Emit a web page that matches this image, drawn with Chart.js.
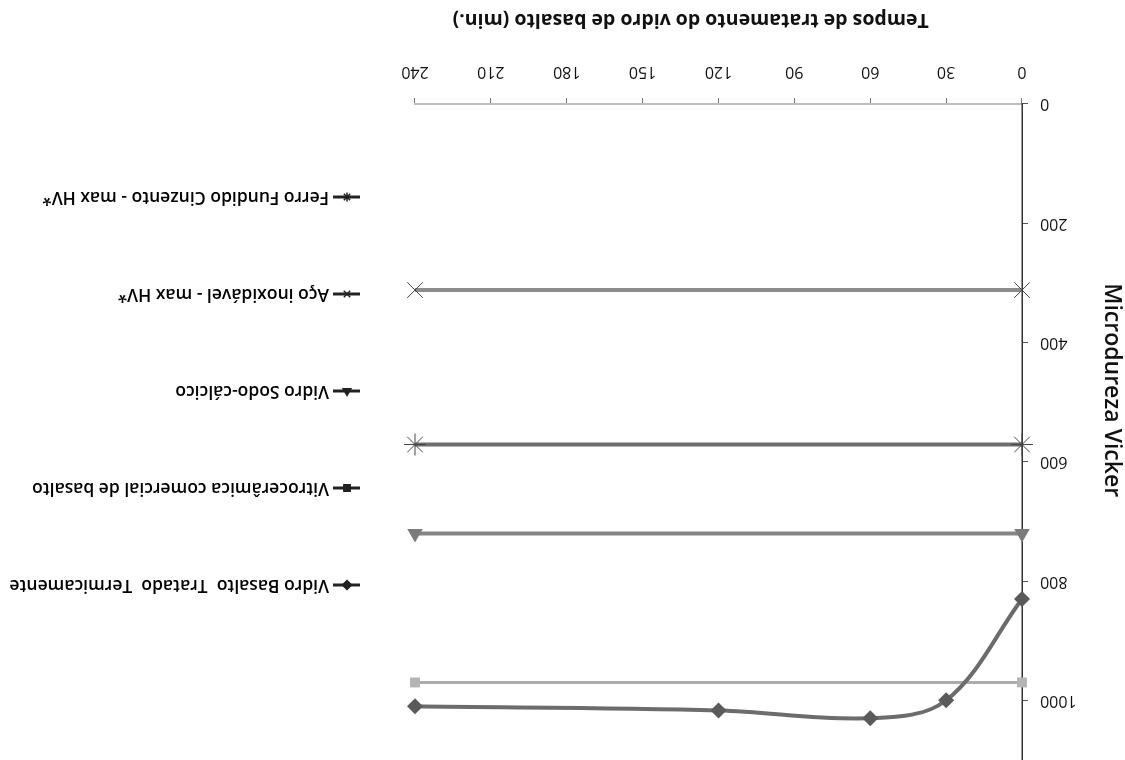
<!DOCTYPE html>
<html>
<head>
<meta charset="utf-8">
<script src="https://cdn.jsdelivr.net/npm/chart.js@4.4.0/dist/chart.umd.min.js"></script>
<style>
  html, body { margin: 0; padding: 0; background: #fff; }
  /* the reference picture is printed upside down */
  #wrap { width: 1125px; height: 760px; position: relative; transform: rotate(180deg); }
</style>
</head>
<body>
<div id="wrap"><canvas id="chart"></canvas></div>
<script>
// treatment time (min) for the basalt glass
const basaltoTimes = [0, 30, 60, 120, 240];
const basaltoHV = [830, 1000, 1030, 1017, 1010];

// reference materials drawn as flat lines over the whole range
const refTimes = [0, 240];
const vitroHV = [970, 970];
const sodoHV = [720, 720];
const acoHV = [312, 312];
const ferroHV = [571, 571];

const seriesLabels = [
    'Vidro Basalto  Tratado  Termicamente',
    'Vitrocerâmica comercial de basalto',
    'Vidro Sodo-cálcico',
    'Aço inoxidável - max HV*',
    'Ferro Fundido Cinzento - max HV*'
];

const xTitle = 'Tempos de tratamento do vidro de basalto (min.)';
const yTitle = 'Microdureza Vicker';
const yTickStep = 200;

function toPoints(xs, ys) {
    return xs.map((x, i) => ({ x: x, y: ys[i] }));
}

const FONT = '"Open Sans", "DejaVu Sans", sans-serif';
const NBSP = '\u00a0';

// Excel-like legend: short line with marker, text to the right
const sideLegend = {
    id: 'sideLegend',
    afterDraw(chart) {
        const ctx = chart.ctx;
        const left = chart.chartArea.right + 55;
        const top = 175;
        const step = 97;
        chart.data.datasets.forEach((ds, i) => {
            const y = top + i * step;
            ctx.save();
            ctx.strokeStyle = '#222';
            ctx.fillStyle = '#222';
            ctx.lineWidth = 3;
            ctx.beginPath();
            ctx.moveTo(left, y);
            ctx.lineTo(left + 27, y);
            ctx.stroke();
            if (Chart.helpers && Chart.helpers.drawPoint) {
                ctx.lineWidth = 1.5;
                Chart.helpers.drawPoint(ctx, { pointStyle: ds.pointStyle, radius: 4.5, borderWidth: 1.5, rotation: 0 }, left + 13, y);
            }
            ctx.fillStyle = '#000';
            ctx.font = '600 17.5px ' + FONT;
            ctx.textBaseline = 'middle';
            ctx.textAlign = 'left';
            ctx.fillText(ds.label, left + 31, y);
            ctx.restore();
        });
    }
};

const ctx = document.getElementById('chart');

new Chart(ctx, {
    type: 'line',
    data: {
        datasets: [{
            label: seriesLabels[0],
            data: toPoints(basaltoTimes, basaltoHV),
            borderColor: '#6c6c6c',
            backgroundColor: '#5a5a5a',
            borderWidth: 4,
            pointStyle: 'rectRot',
            pointRadius: 8,
            pointBorderWidth: 0,
            tension: 0.35,
            clip: false
        }, {
            label: seriesLabels[1],
            data: toPoints(refTimes, vitroHV),
            borderColor: '#acacac',
            backgroundColor: '#b4b4b4',
            borderWidth: 3,
            pointStyle: 'rect',
            pointRadius: 7,
            pointBorderWidth: 0,
            clip: false
        }, {
            label: seriesLabels[2],
            data: toPoints(refTimes, sodoHV),
            borderColor: '#858585',
            backgroundColor: '#7c7c7c',
            borderWidth: 4,
            pointStyle: 'triangle',
            pointRadius: 9,
            pointBorderWidth: 0,
            clip: false
        }, {
            label: seriesLabels[3],
            data: toPoints(refTimes, acoHV),
            borderColor: '#8c8c8c',
            backgroundColor: '#444',
            borderWidth: 4,
            pointStyle: 'crossRot',
            pointRadius: 11,
            pointBorderColor: '#444',
            pointBorderWidth: 1,
            clip: false
        }, {
            label: seriesLabels[4],
            data: toPoints(refTimes, ferroHV),
            borderColor: '#6e6e6e',
            backgroundColor: '#444',
            borderWidth: 4,
            pointStyle: 'star',
            pointRadius: 11,
            pointBorderColor: '#444',
            pointBorderWidth: 1,
            clip: false
        }]
    },
    options: {
        responsive: true,
        maintainAspectRatio: false,
        animation: false,
        layout: { autoPadding: false, padding: { left: 0, top: 0, right: 415, bottom: 0 } },
        plugins: {
            legend: { display: false },
            tooltip: { enabled: false }
        },
        scales: {
            x: {
                type: 'linear',
                position: 'bottom',
                min: 0,
                max: 240,
                ticks: {
                    stepSize: 30,
                    padding: 17,
                    color: '#111',
                    font: { family: FONT, size: 16 },
                    callback: v => String(v)
                },
                grid: { drawOnChartArea: false, drawTicks: true, tickLength: 6, color: '#777' },
                border: { display: true, color: '#bdbdbd', width: 2 },
                title: {
                    display: true,
                    // leading spaces push the title right, as in the original
                    text: NBSP.repeat(11) + xTitle,
                    color: '#111',
                    font: { family: FONT, size: 19.5, weight: '700' },
                    padding: { top: 0, bottom: 8 }
                },
                afterFit(scale) { scale.height = 104; }
            },
            y: {
                min: 0,
                max: 1100,
                ticks: {
                    stepSize: yTickStep,
                    padding: 12,
                    color: '#111',
                    font: { family: FONT, size: 16 },
                    callback: v => String(v)
                },
                afterBuildTicks(scale) {
                    scale.ticks = scale.ticks.filter(t => t.value % yTickStep === 0);
                },
                grid: { drawOnChartArea: false, drawTicks: true, tickLength: 6, color: '#555' },
                border: { display: true, color: '#333', width: 1.5, dash: [1, 1.5] },
                title: {
                    display: true,
                    // trailing spaces push the title down, as in the original
                    text: yTitle + NBSP.repeat(14),
                    color: '#111',
                    font: { family: FONT, size: 23, weight: '600' },
                    padding: { top: 0, bottom: 0 }
                },
                afterFit(scale) {
                    scale.width = 103;
                    scale.paddingTop = 0;
                }
            }
        }
    },
    plugins: [sideLegend]
});
</script>
</body>
</html>
